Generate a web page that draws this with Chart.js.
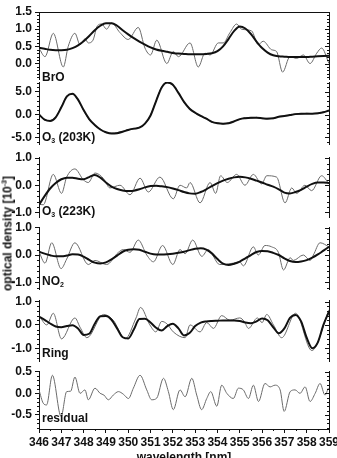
<!DOCTYPE html>
<html>
<head>
<meta charset="utf-8">
<script src="https://cdn.jsdelivr.net/npm/chart.js@4.4.0/dist/chart.umd.min.js"></script>
<style>
body { margin: 0; background: #fff; width: 337px; height: 458px; overflow: hidden; position: relative; font-family: "Liberation Sans", Arial, sans-serif; }
canvas { position: absolute; left: 0; }
.lbl { position: absolute; left: 42px; font-weight: bold; font-size: 12px; line-height: 12px; color: #111; white-space: nowrap; }
.lbl sub { font-size: 7px; vertical-align: -2px; }
#ytitle { position: absolute; left: -74px; top: 225px; width: 160px; text-align: center; transform: rotate(-90deg); font-weight: bold; font-size: 12px; line-height: 14px; color: #111; white-space: nowrap; }
#ytitle sup { font-size: 7px; vertical-align: 5px; }
</style>
</head>
<body>
<canvas id="p1"></canvas>
<canvas id="p2"></canvas>
<canvas id="p3"></canvas>
<canvas id="p4"></canvas>
<canvas id="p5"></canvas>
<canvas id="p6"></canvas>
<div class="lbl" style="top:71px">BrO</div>
<div class="lbl" style="top:131px">O<sub>3</sub> (203K)</div>
<div class="lbl" style="top:205px">O<sub>3</sub> (223K)</div>
<div class="lbl" style="top:275px">NO<sub>2</sub></div>
<div class="lbl" style="top:347px">Ring</div>
<div class="lbl" style="top:412px">residual</div>
<div id="ytitle">optical density [10<sup>-3</sup>]</div>
<script>
// wavelength grid of the fitted (smooth) reference spectra
var wl = [346, 346.25, 346.5, 346.75, 347, 347.25, 347.5, 347.75, 348, 348.25, 348.5, 348.75,
    349, 349.25, 349.5, 349.75, 350, 350.25, 350.5, 350.75, 351, 351.25, 351.5, 351.75,
    352, 352.25, 352.5, 352.75, 353, 353.25, 353.5, 353.75, 354, 354.25, 354.5, 354.75,
    355, 355.25, 355.5, 355.75, 356, 356.25, 356.5, 356.75, 357, 357.25, 357.5, 357.75,
    358, 358.25, 358.5, 358.75, 359];

var broFit = [0.46, 0.43, 0.40, 0.39, 0.39, 0.40, 0.45, 0.53, 0.65, 0.80, 0.97, 1.10,
    1.17, 1.17, 1.10, 0.97, 0.85, 0.74, 0.64, 0.55, 0.47, 0.41, 0.37, 0.34,
    0.31, 0.29, 0.28, 0.27, 0.27, 0.27, 0.28, 0.30, 0.36, 0.50, 0.72, 0.95,
    1.08, 1.02, 0.86, 0.64, 0.45, 0.32, 0.24, 0.21, 0.20, 0.19, 0.19, 0.19,
    0.19, 0.20, 0.21, 0.22, 0.23];
var broMeasX = [346, 346.27, 346.64, 347.09, 347.31, 347.61, 347.84, 348.06, 348.21, 348.42, 348.62, 348.81,
    349.03, 349.25, 349.63, 350, 350.45, 350.75, 351, 351.28, 351.73, 352.02, 352.25, 352.77,
    353.14, 353.44, 353.67, 354.04, 354.26, 354.56, 354.86, 355.08, 355.53, 355.83, 356.05, 356.43,
    356.65, 356.92, 357.25, 357.55, 357.85, 358.15, 358.45, 358.67, 359];
var broMeasY = [0.45, 0.2, 0.88, -0.1, 0.5, 0.88, 0.55, 0.72, 0.6, 0.68, 1.1, 1.15,
    1.0, 1.18, 0.9, 0.7, 1.05, 0.45, 0.25, 0.68, 0.0, 0.35, 0.2, 0.6,
    -0.1, 0.3, 0.25, 0.6, 0.6, 0.9, 1.15, 1.0, 0.95, 0.55, 0.65, 0.4,
    0.35, -0.25, 0.2, 0.15, 0.25, 0.0, 0.3, 0.45, 0.0];

var o3hFit = [0.0, -1.1, -1.4, -0.6, 1.6, 4.0, 4.6, 3.3, 1.0, -1.0, -2.3, -3.3,
    -3.9, -4.2, -4.1, -3.8, -3.4, -3.1, -2.9, -2.0, -0.2, 3.0, 6.0, 7.1,
    6.6, 4.8, 2.8, 1.3, 0.4, -0.3, -0.9, -1.6, -1.9, -2.0, -1.9, -1.5,
    -1.0, -0.8, -0.7, -0.7, -0.8, -0.9, -0.8, -0.5, -0.3, -0.1, 0.1, 0.2,
    0.2, 0.2, 0.3, 0.5, 0.9];
var o3hMeas = [0.1, -1.2, -1.3, -0.5, 1.7, 4.1, 4.5, 3.2, 0.9, -1.1, -2.4, -3.2,
    -4.0, -4.1, -4.0, -3.7, -3.3, -3.2, -2.8, -2.1, -0.1, 3.1, 6.1, 7.0,
    6.5, 4.9, 2.7, 1.4, 0.3, -0.4, -0.8, -1.7, -1.8, -2.1, -1.8, -1.4,
    -1.1, -0.7, -0.8, -0.6, -0.9, -0.8, -0.9, -0.4, -0.3, -0.2, 0.2, 0.1,
    0.3, 0.2, 0.2, 0.6, 0.8];

var o3cFit = [-0.72, -0.40, -0.12, 0.08, 0.22, 0.28, 0.28, 0.24, 0.22, 0.30, 0.38, 0.28,
    0.10, -0.05, -0.14, -0.19, -0.21, -0.20, -0.15, -0.08, -0.03, -0.02, -0.04, -0.07,
    -0.12, -0.18, -0.25, -0.30, -0.31, -0.25, -0.15, -0.03, 0.08, 0.17, 0.24, 0.29,
    0.31, 0.29, 0.24, 0.17, 0.10, 0.02, -0.05, -0.15, -0.27, -0.30, -0.25, -0.17,
    -0.05, 0.05, 0.10, 0.10, 0.08];
var o3cMeasX = [346, 346.19, 346.64, 347.01, 347.24, 347.61, 347.99, 348.21, 348.51, 348.89, 349.18, 349.63,
    350.08, 350.53, 350.9, 351.42, 352.02, 352.32, 352.62, 352.77, 353.22, 353.67, 353.92, 354.14,
    354.44, 354.86, 355.23, 355.61, 355.98, 356.21, 356.65, 357.03, 357.33, 357.55, 357.92, 358.22,
    358.67, 359];
var o3cMeasY = [-0.70, -0.72, 0.40, -0.30, 0.30, 0.60, 0.20, 0.10, 0.45, 0.25, -0.10, 0.00,
    -0.35, 0.26, -0.25, 0.30, -0.50, 0.00, -0.10, 0.10, -0.65, 0.10, -0.30, 0.35,
    0.10, 0.40, 0.00, 0.40, 0.05, 0.35, 0.30, -0.65, -0.10, -0.30, 0.00, -0.20,
    0.35, 0.05];

var no2Fit = [0.12, 0.05, -0.01, -0.05, -0.05, -0.02, 0.03, 0.02, -0.06, -0.18, -0.28, -0.31,
    -0.27, -0.16, -0.02, 0.12, 0.19, 0.21, 0.19, 0.12, 0.05, 0.02, 0.02, 0.03,
    0.05, 0.08, 0.12, 0.18, 0.23, 0.25, 0.20, 0.06, -0.15, -0.32, -0.37, -0.32,
    -0.24, -0.12, 0.00, 0.11, 0.15, 0.14, 0.08, 0.00, -0.12, -0.22, -0.26, -0.24,
    -0.19, -0.10, 0.02, 0.16, 0.30];
var no2MeasX = [346, 346.27, 346.57, 346.99, 347.24, 347.61, 348.21, 348.51, 349.03, 349.56, 349.78, 350.08,
    350.45, 350.83, 351.13, 351.54, 352, 352.32, 352.55, 352.89, 353.3, 353.58, 354.1, 354.71,
    355, 355.16, 355.61, 355.83, 356.13, 356.43, 356.73, 356.96, 357.26, 357.4, 357.85, 358.15,
    358.3, 358.6, 359];
var no2MeasY = [0.12, -0.30, 0.45, -0.50, -0.15, 0.45, -0.35, -0.20, -0.35, 0.10, 0.20, 0.10,
    0.55, 0.00, -0.25, 0.35, -0.35, 0.20, 0.05, 0.55, -0.05, 0.20, -0.35, -0.30,
    -0.25, -0.40, 0.30, 0.00, 0.35, 0.30, 0.10, -0.55, -0.10, -0.20, 0.00, -0.20,
    0.00, 0.45, 0.30];

var ringFit = [0.36, 0.22, 0.06, -0.07, -0.10, -0.05, -0.01, -0.15, -0.43, -0.38, 0.05, 0.37,
    0.38, 0.22, -0.15, -0.53, -0.58, -0.20, 0.25, 0.26, 0.10, -0.12, -0.24, -0.05,
    0.05, -0.15, -0.45, -0.35, -0.05, 0.10, 0.15, 0.17, 0.18, 0.19, 0.19, 0.19,
    0.17, 0.10, 0.07, 0.15, 0.28, 0.20, -0.10, -0.36, -0.15, 0.30, 0.43, 0.15,
    -0.55, -1.00, -0.75, 0.00, 0.57];
var ringMeasX = [346, 346.35, 346.64, 347.01, 347.61, 347.84, 348.15, 348.89, 349.33, 349.86, 350.35, 350.55,
    350.97, 351.24, 351.5, 351.73, 352.02, 352.55, 352.77, 353.22, 353.52, 353.82, 354.19, 354.56,
    355, 355.2, 355.39, 355.79, 356, 356.21, 356.51, 356.88, 357.5, 358.23, 359];
var ringMeasY = [0.40, 0.00, 0.50, -0.60, 0.30, -0.10, -0.55, 0.45, 0.20, -0.60, 0.30, 0.75,
    0.00, -0.30, 0.15, 0.05, -0.30, -0.55, 0.00, -0.30, 0.10, -0.15, 0.40, 0.20,
    0.30, 0.15, -0.15, 0.30, 0.10, 0.45, 0.00, -0.55, 0.50, -1.10, 0.65];

var resX = [346, 346.19, 346.34, 346.6, 346.99, 347.24, 347.42, 347.61, 347.84, 348.06, 348.21, 348.51,
    348.74, 348.91, 349.11, 349.33, 349.56, 349.78, 350.01, 350.23, 350.53, 350.83, 351.05, 351.28,
    351.58, 351.8, 352.02, 352.32, 352.55, 352.85, 353.07, 353.29, 353.52, 353.7, 353.97, 354.19,
    354.42, 354.71, 354.94, 355.16, 355.39, 355.61, 355.84, 356.13, 356.36, 356.58, 356.81, 356.99,
    357.26, 357.48, 357.7, 357.93, 358.15, 358.38, 358.6, 358.82, 358.97];
var resY = [0.08, -0.23, -0.27, 0.42, -0.54, 0.04, 0.05, 0.38, 0.00, 0.08, -0.15, 0.12,
    0.00, -0.04, -0.15, -0.04, 0.04, -0.02, -0.12, 0.12, 0.42, 0.08, -0.15, -0.11,
    0.35, 0.04, -0.38, 0.08, -0.08, 0.35, -0.04, -0.38, -0.12, 0.04, -0.30, 0.19,
    0.00, -0.12, 0.12, 0.08, -0.12, 0.19, -0.19, 0.23, 0.15, 0.19, 0.08, -0.42,
    0.04, 0.08, 0.00, 0.15, -0.19, 0.00, 0.23, -0.04, 0.12];

var xTicks = [346, 347, 348, 349, 350, 351, 352, 353, 354, 355, 356, 357, 358, 359];

var tickFont = {family: 'Liberation Sans', size: 12, weight: 'bold'};

function pts(xs, ys) {
    return xs.map(function (x, i) { return {x: x, y: ys[i]}; });
}

// minor ticks on both y axes, mirrored ticks on the right, minor x ticks at the bottom
var frameTicks = {
    id: 'frameTicks',
    afterDraw: function (chart, args, o) {
        var c = chart.ctx, a = chart.chartArea, y = chart.scales.y, x = chart.scales.x;
        c.save();
        c.strokeStyle = '#111';
        c.lineWidth = 1;
        c.beginPath();
        var i0 = Math.ceil(y.min / o.minor - 1e-6), i1 = Math.floor(y.max / o.minor + 1e-6);
        for (var i = i0; i <= i1; i++) {
            var v = i * o.minor;
            var p = Math.round(y.getPixelForValue(v)) + 0.5;
            var r = v / o.major;
            var major = Math.abs(r - Math.round(r)) < 1e-6;
            if (!major) {
                c.moveTo(a.left - 2, p); c.lineTo(a.left, p);
            }
            c.moveTo(a.right, p); c.lineTo(a.right - (major ? 4 : 2), p);
        }
        if (o.bottom) {
            for (var k = 0; k < xTicks.length - 1; k++) {
                var px = Math.round(x.getPixelForValue(xTicks[k] + 0.5)) + 0.5;
                c.moveTo(px, a.bottom); c.lineTo(px, a.bottom + 2);
            }
        }
        c.stroke();
        c.restore();
    }
};

function makePanel(id, top, bottom, min, max, major, minor, datasets, first, last) {
    var cv = document.getElementById(id);
    var h = last ? 458 - (top - 8) : bottom - top + 16;
    cv.width = 337; cv.height = h;
    cv.style.top = (top - 8) + 'px';
    return new Chart(cv.getContext('2d'), {
        type: 'line',
        data: {datasets: datasets},
        options: {
            responsive: false,
            animation: false,
            devicePixelRatio: 1,
            layout: {padding: {top: 8, bottom: last ? 0 : 8, left: 0, right: 8}},
            plugins: {legend: {display: false}, tooltip: {enabled: false}, frameTicks: {major: major, minor: minor, bottom: last}},
            elements: {point: {radius: 0}},
            scales: {
                x: {
                    type: 'linear', min: 346, max: 359, display: last, position: 'bottom',
                    afterBuildTicks: function (s) { s.ticks = xTicks.map(function (v) { return {value: v}; }); },
                    ticks: {font: tickFont, color: '#111', padding: 2, maxRotation: 0, autoSkip: false},
                    grid: {drawOnChartArea: false, tickLength: 4, color: '#111'},
                    border: {color: '#111', width: 1},
                    title: {display: true, text: 'wavelength [nm]', font: tickFont, color: '#111', padding: {top: 0, bottom: -7}},
                    afterFit: function (s) { s.height = s.options.display ? 29 : 0; s.paddingLeft = 0; s.paddingRight = 0; }
                },
                xt: {
                    type: 'linear', min: 346, max: 359, display: first, position: 'top',
                    ticks: {display: false},
                    grid: {drawOnChartArea: false, drawTicks: false},
                    border: {color: '#111', width: 1},
                    afterFit: function (s) { s.height = 0; s.paddingLeft = 0; s.paddingRight = 0; }
                },
                y: {
                    min: min, max: max, position: 'left',
                    ticks: {
                        stepSize: major, includeBounds: false, font: tickFont, color: '#111', padding: 3,
                        callback: function (v) { return Math.abs(v) < 1e-9 ? '0.0' : v.toFixed(1); }
                    },
                    grid: {drawOnChartArea: false, tickLength: 4, color: '#111'},
                    border: {color: '#111', width: 1},
                    afterFit: function (s) { s.width = 39; s.paddingTop = 0; s.paddingBottom = 0; }
                },
                yr: {
                    min: min, max: max, position: 'right',
                    ticks: {display: false},
                    grid: {drawOnChartArea: false, drawTicks: false},
                    border: {color: '#111', width: 1},
                    afterFit: function (s) { s.width = 0; s.paddingTop = 0; s.paddingBottom = 0; }
                }
            }
        },
        plugins: [frameTicks]
    });
}

function fitSet(vals) {
    return {data: pts(wl, vals), borderColor: '#111', borderWidth: 2, cubicInterpolationMode: 'monotone', yAxisID: 'y'};
}
function measSet(xs, ys) {
    return {data: pts(xs, ys), borderColor: '#6b6b6b', borderWidth: 1, cubicInterpolationMode: 'monotone', yAxisID: 'y'};
}

makePanel('p1', 12, 79, -0.45, 1.5, 0.5, 0.1, [fitSet(broFit), measSet(broMeasX, broMeasY)], true, false);
makePanel('p2', 82, 144, -6.5, 7.2, 5, 1, [fitSet(o3hFit), measSet(wl, o3hMeas)], false, false);
makePanel('p3', 157, 217, -1.17, 1.04, 1, 0.2, [fitSet(o3cFit), measSet(o3cMeasX, o3cMeasY)], false, false);
makePanel('p4', 227, 289, -1.25, 1.03, 1, 0.2, [fitSet(no2Fit), measSet(no2MeasX, no2MeasY)], false, false);
makePanel('p5', 300, 361, -1.55, 1.07, 1, 0.2, [fitSet(ringFit), measSet(ringMeasX, ringMeasY)], false, false);
makePanel('p6', 371, 429, -0.83, 0.52, 0.5, 0.1, [measSet(resX, resY)], false, true);
</script>
</body>
</html>
